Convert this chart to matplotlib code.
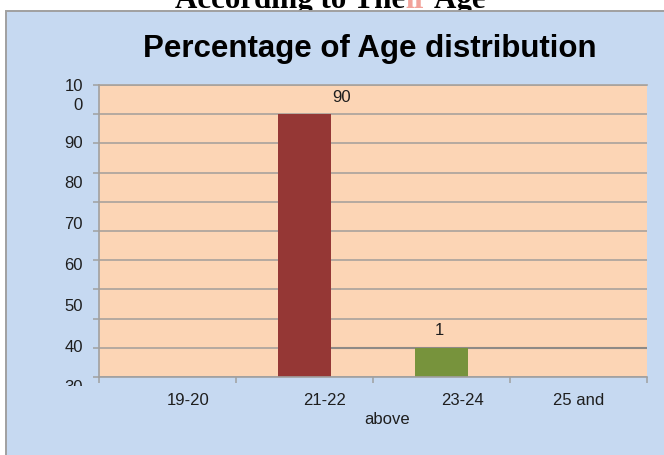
import matplotlib
matplotlib.use("Agg")
import numpy as np
import matplotlib.pyplot as plt
from matplotlib.patches import Rectangle
from matplotlib.transforms import Affine2D, Bbox, TransformedBbox, ScaledTranslation

# ---- data -------------------------------------------------------------
categories = ["19-20", "21-22", "23-24", "25 and above"]
percentages = [np.nan, 90, 10, np.nan]
bar_colors = ["#4F81BD", "#953735", "#77933C", "#8064A2"]
bar_labels = ["", "90", "1", ""]
y_label_values = [100, 90, 80, 70, 60, 50, 40, 30]
y_label_texts = ["10\n0", "90", "80", "70", "60", "50", "40", "30"]
grid_values = list(range(0, 101, 10))

# ---- styling ----------------------------------------------------------
W, H = 664, 455
SANS = ["Liberation Sans", "DejaVu Sans"]
SERIF = ["Liberation Serif", "DejaVu Serif"]
BLUE = "#C6D9F1"
PEACH = "#FCD5B5"
GRID = "#A8A29C"
EDGE = "#A0A0A0"
INK = "#1E1E1E"

fig = plt.figure(figsize=(W / 100, H / 100), dpi=100)
fig.patch.set_facecolor("white")


def fy(y_px):
    return 1 - y_px / H


# page heading, mostly running off the top edge
h1 = fig.text(175 / W, fy(8), "According to The", family=SERIF, weight="bold",
              fontsize=22.3, color="black", ha="left", va="baseline", zorder=-3)
h2 = fig.text(0, 0, "ir", family=SERIF, weight="bold", fontsize=22.3,
              color="#F2A39B", ha="left", va="baseline", zorder=-3)
h3 = fig.text(0, 0, " Age", family=SERIF, weight="bold", fontsize=22.3,
              color="black", ha="left", va="baseline", zorder=-3)
fig.canvas.draw()
r = fig.canvas.get_renderer()
bb1 = h1.get_window_extent(r)
h2.set_position((bb1.x1 / W, fy(8)))
bb2 = h2.get_window_extent(r)
h3.set_position((bb2.x1 / W, fy(8)))

# chart area
fig.add_artist(Rectangle((5.5 / W, -0.05), 1.1, fy(10.5) + 0.05,
                         transform=fig.transFigure, facecolor=BLUE,
                         edgecolor=EDGE, linewidth=1.4, zorder=-1))

fig.text(369.5 / W, fy(57), "Percentage of Age distribution", family=SANS,
         weight="bold", fontsize=22.5, color="black", ha="center",
         va="baseline", zorder=1)

# plot area
ax = fig.add_axes([99 / W, fy(377), 548 / W, 292 / H])
ax.set_facecolor(PEACH)
ax.set_xlim(-0.5, 3.5)
ax.set_ylim(0, 100)
ax.set_axisbelow(True)

ax.set_yticks(grid_values)
ax.yaxis.grid(True, color=GRID, linewidth=1.2)
ax.tick_params(axis="y", length=4.3, width=1.1, color=EDGE, labelleft=False)
ax.set_xticks(np.arange(len(categories) + 1) - 0.5)
ax.tick_params(axis="x", length=4.3, width=1.1, color=EDGE, labelbottom=False)

ax.spines["right"].set_visible(False)
for side in ("left", "bottom", "top"):
    ax.spines[side].set_color(EDGE)
    ax.spines[side].set_linewidth(1.2)
ax.spines["top"].set_color(GRID)

bar_w = 0.394
x = np.arange(len(categories))
for i, (val, col) in enumerate(zip(percentages, bar_colors)):
    if np.isfinite(val):
        ax.bar(x[i], val, width=bar_w, color=col, zorder=2)

# darker rule level with the 23-24 bar
ax.hlines(percentages[2], x[1] + bar_w / 2, 3.5, color="#8E8A86",
          linewidth=1.5, zorder=1.5)

# value labels
label_shift = {1: 37, 2: -2}
for i, (val, lab) in enumerate(zip(percentages, bar_labels)):
    if lab:
        ax.annotate(lab, xy=(x[i], val), xytext=(label_shift[i], 17),
                    textcoords="offset pixels", ha="center", va="center",
                    family=SANS, fontsize=12, color=INK, zorder=3)

# y labels on their own scale, clipped a little below the plot area
lab_lo, lab_span = 32.65, 71.57
ytf = Affine2D().scale(1, 1 / lab_span).translate(0, -lab_lo / lab_span) + ax.transAxes
clip = TransformedBbox(Bbox.from_extents(0, fy(386), 1, 1), fig.transFigure)
for v, t in zip(y_label_values, y_label_texts):
    tf = ytf
    if "\n" in t:
        tf = ytf + ScaledTranslation(0, 6 / 100, fig.dpi_scale_trans)
    txt = ax.text(-16 / 548, v, t, transform=tf, ha="right", va="center",
                  family=SANS, fontsize=12, color=INK, linespacing=1.37,
                  clip_on=True)
    txt.set_clip_box(clip)

# category labels
xtf = ax.get_xaxis_transform()
for i, cat in enumerate(categories[:3]):
    ax.text(x[i] + 0.15, -0.079, cat, transform=xtf, ha="center", va="center",
            family=SANS, fontsize=12, color=INK)
first, second = categories[3].rsplit(" ", 1)
ax.text(x[3], -0.079, first, transform=xtf, ha="center", va="center",
        family=SANS, fontsize=12, color=INK)
ax.text(x[3] - 1.4, -0.145, second, transform=xtf, ha="center", va="center",
        family=SANS, fontsize=12, color=INK)

fig.savefig("out.png", dpi=100)
